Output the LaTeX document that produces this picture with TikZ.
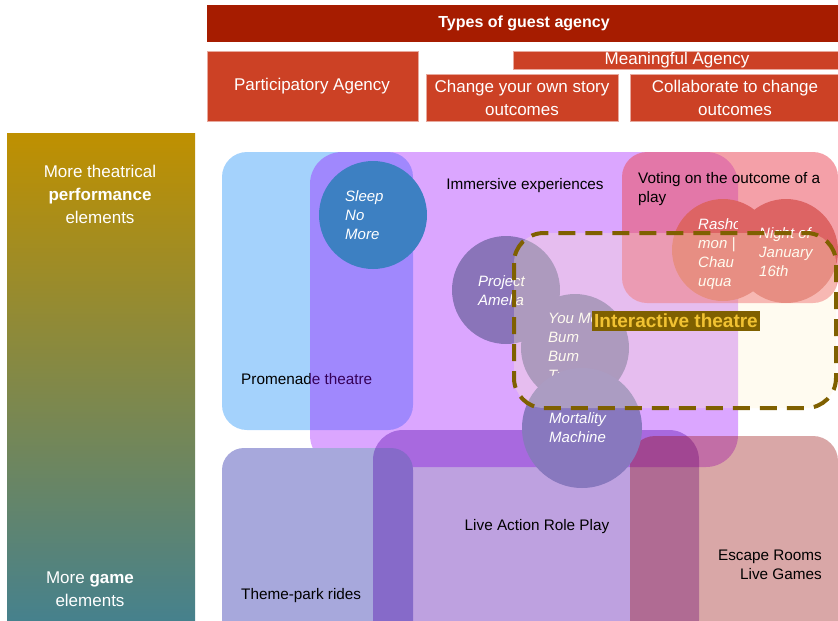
\documentclass[tikz,border=0pt]{standalone}
\usepackage{fontspec}
\setmainfont{Liberation Sans}
\definecolor{banner}{HTML}{A61C00}
\definecolor{redbox}{HTML}{CC4125}
\definecolor{gold}{HTML}{BF9000}
\definecolor{tealc}{HTML}{45818E}
\definecolor{promblue}{RGB}{164,210,252}
\definecolor{immpurple}{HTML}{9900FF}
\definecolor{votepink}{RGB}{235,82,97}
\definecolor{sleepblue}{HTML}{3D80C2}
\definecolor{amelia}{HTML}{8A74B9}
\definecolor{mortal}{HTML}{8878BE}
\definecolor{rasho}{RGB}{221,100,100}
\definecolor{themepark}{RGB}{167,168,220}
\definecolor{larp}{RGB}{80,0,170}
\definecolor{escape}{RGB}{150,10,10}
\definecolor{cream}{HTML}{FFF2CC}
\definecolor{dashbrown}{HTML}{7F6000}
\definecolor{labelyellow}{HTML}{F1C232}
\tikzset{
  redboxstyle/.style={fill=redbox, draw=white!55!redbox, line width=0.8},
  headtext/.style={text=white, font=\fontsize{17}{23}\selectfont, align=center, inner sep=0},
  sidetext/.style={text=white, font=\fontsize{17}{23}\selectfont, align=center, inner sep=0},
  bodytext/.style={text=black, font=\fontsize{15.3}{19}\selectfont, inner sep=0},
  circtext/.style={text=white, font=\fontsize{15}{19}\selectfont\itshape, align=left, anchor=north west, inner sep=0},
}
\begin{document}
\begin{tikzpicture}[x=1pt,y=-1pt]
\useasboundingbox (0,0) rectangle (838,621);
% left gradient bar
\shade[top color=gold, bottom color=tealc] (7,133) rectangle (195,625);
\node[sidetext] (perf) at (100,194) {More theatrical\\\textbf{performance}\\elements};
\node[sidetext] (game) at (90,589) {More \textbf{game}\\elements};
% header
\fill[banner] (207,5) rectangle (842,42);
\node[text=white, font=\fontsize{16}{20}\selectfont\bfseries, inner sep=0] (types) at (524,23) {Types of guest agency};
\draw[redboxstyle] (207,51) rectangle (418,121);
\node[headtext] (part) at (312,86) {Participatory Agency};
\draw[redboxstyle] (513,51) rectangle (842,69);
\node[headtext] (mean) at (677,60) {Meaningful Agency};
\draw[redboxstyle] (426,74) rectangle (618,121);
\node[headtext] (own) at (522,98) {Change your own story\\outcomes};
\draw[redboxstyle] (630,74) rectangle (842,121);
\node[headtext] (collab) at (735,98) {Collaborate to change\\outcomes};
% promenade
\fill[promblue, rounded corners=25] (222,152) rectangle (413,430);
\node[bodytext, anchor=west] (prom) at (241,379) {Promenade theatre};
% immersive
\fill[immpurple, opacity=.35, rounded corners=32] (310,152) rectangle (738,467);
\node[bodytext] (imm) at (525,186) {Immersive experiences};
% voting
\fill[votepink, opacity=.55, rounded corners=25] (622,152) rectangle (838,303);
\node[bodytext, align=left, anchor=north west] (vote) at (638,172) {Voting on the outcome of a\\play};
% bottom areas
\fill[themepark, rounded corners=22] (222,448) rectangle (413,650);
\node[bodytext, anchor=west] (theme) at (241,596) {Theme-park rides};
\fill[larp, opacity=.37, rounded corners=30] (373,430) rectangle (699,650);
\node[bodytext] (larptext) at (537,527) {Live Action Role Play};
\fill[escape, opacity=.36, rounded corners=25] (630,436) rectangle (838,650);
\node[bodytext, align=right, anchor=north east] (esc) at (822,550) {Escape Rooms\\Live Games};
% circles
\fill[sleepblue] (373,215) circle (54);
\node[circtext] (sleep) at (345,190) {Sleep\\No\\More};
\fill[amelia] (506,290) circle (54);
\node[circtext] (amel) at (478,275) {Project\\Amelia};
\fill[amelia] (575,348) circle (54);
\begin{scope}
\clip (540,300) rectangle (640,375);
\node[circtext] (youme) at (548,313) {You Me\\Bum\\Bum\\Train};
\end{scope}
\fill[mortal] (582,428) circle (60);
\node[circtext] (mort) at (549,412) {Mortality\\Machine};
\fill[rasho] (723,250) circle (51);
\fill[rasho] (786,251) circle (52);
\begin{scope}
\clip (690,200) rectangle (737.5,300);
\node[circtext] (rash) at (698,218) {Rasho\\mon |\\Chau\\uqua};
\end{scope}
\node[circtext] (night) at (759,227) {Night of\\January\\16th};
% interactive theatre dashed area
\draw[dashbrown, line width=4, dash pattern=on 17 off 10, fill=cream, fill opacity=.3, rounded corners=30] (514,233) rectangle (836,408);
\node[fill=dashbrown, text=labelyellow, font=\fontsize{19}{22}\selectfont\bfseries, inner xsep=2, inner ysep=3] (inter) at (676,321) {Interactive theatre};
\end{tikzpicture}
\end{document}
